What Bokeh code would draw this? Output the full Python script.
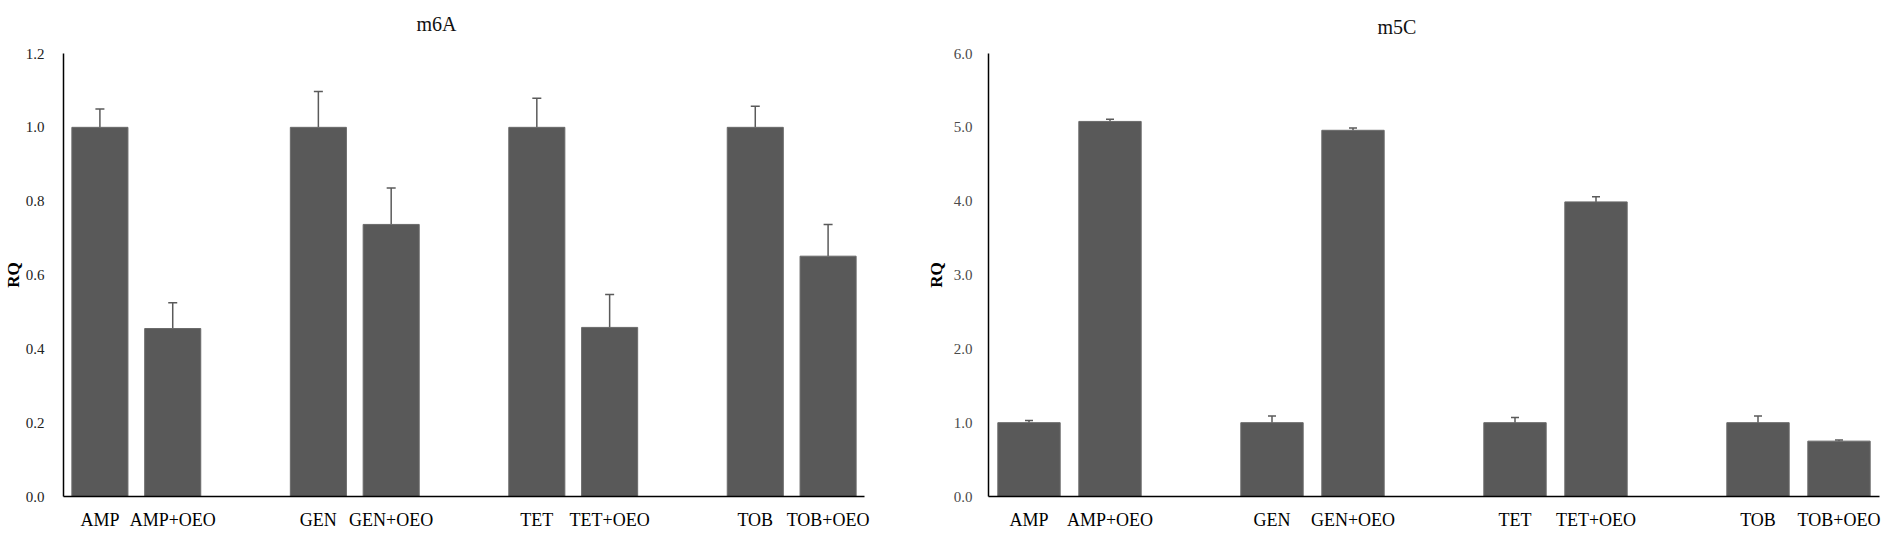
from bokeh.plotting import figure
from bokeh.layouts import row
from bokeh.models import (ColumnDataSource, FixedTicker, NumeralTickFormatter, Range1d,
                          Whisker, TeeHead, Title)
from bokeh.embed import file_html
from bokeh.resources import INLINE

# ---- data ----
categories = ["AMP", "AMP+OEO", "GEN", "GEN+OEO", "TET", "TET+OEO", "TOB", "TOB+OEO"]
m6a_values = [1.0, 0.455, 1.0, 0.737, 1.0, 0.458, 1.0, 0.651]
m6a_errors = [0.050, 0.070, 0.097, 0.099, 0.079, 0.089, 0.057, 0.086]
m5c_values = [1.0, 5.08, 1.0, 4.96, 1.0, 3.99, 1.0, 0.75]
m5c_errors = [0.03, 0.03, 0.09, 0.03, 0.07, 0.07, 0.09, 0.015]
m6a_yticks = [0.0, 0.2, 0.4, 0.6, 0.8, 1.0, 1.2]
m5c_yticks = [0.0, 1.0, 2.0, 3.0, 4.0, 5.0, 6.0]

# bar slots: pairs with an empty slot between groups
positions = [i + i // 2 for i in range(len(categories))]

SERIF = "Liberation Serif"
BAR = "#595959"


def make_panel(title, values, errors, yticks, ymax, width, bl, br, title_offset,
               spacer_size, tick_standoff, label_standoff, tick_color, cap):
    src = ColumnDataSource(dict(
        x=positions,
        top=values,
        upper=[v + e for v, e in zip(values, errors)],
    ))
    p = figure(width=width, height=532, output_backend="svg", toolbar_location=None,
               x_range=Range1d(-0.5, 10.5), y_range=Range1d(0, ymax),
               min_border_left=bl, min_border_right=br, min_border_top=53,
               min_border_bottom=36)
    p.title = None
    p.vbar(x="x", top="top", bottom=0, width=0.77, source=src,
           fill_color=BAR, line_color="#6a6a6a", line_width=1)
    w = Whisker(base="x", upper="upper", lower="top", source=src,
                line_color="#5a5a5a", line_width=1.5,
                upper_head=TeeHead(size=cap, line_color="#5a5a5a", line_width=1.5),
                lower_head=None)
    p.add_layout(w)

    # invisible spacer so the title sits higher above the frame
    p.add_layout(Title(text=" ", text_font=SERIF, text_font_size=spacer_size,
                       standoff=0, text_color="white"), "above")
    p.add_layout(Title(text=title, text_font=SERIF, text_font_size="20px",
                       text_font_style="normal", align="left", offset=title_offset,
                       text_color="#111111"), "above")

    p.grid.visible = False
    p.outline_line_color = None
    p.background_fill_color = "white"
    p.border_fill_color = "white"

    xa = p.xaxis[0]
    xa.ticker = FixedTicker(ticks=positions)
    xa.major_label_overrides = {float(px): c for px, c in zip(positions, categories)}
    xa.major_tick_line_color = None
    xa.minor_tick_line_color = None
    xa.major_tick_out = 0
    xa.major_tick_in = 0
    xa.minor_tick_out = 0
    xa.axis_line_color = "black"
    xa.axis_line_width = 1.5
    xa.major_label_text_font = SERIF
    xa.major_label_text_font_size = "18px"
    xa.major_label_text_color = "black"
    xa.major_label_standoff = 13

    ya = p.yaxis[0]
    ya.ticker = FixedTicker(ticks=yticks)
    ya.formatter = NumeralTickFormatter(format="0.0")
    ya.major_tick_line_color = None
    ya.minor_tick_line_color = None
    ya.major_tick_out = 0
    ya.major_tick_in = 0
    ya.minor_tick_out = 0
    ya.axis_line_color = "black"
    ya.axis_line_width = 1.5
    ya.major_label_text_font = SERIF
    ya.major_label_text_font_size = "15px"
    ya.major_label_text_color = tick_color
    ya.major_label_standoff = tick_standoff
    ya.axis_label = "RQ"
    ya.axis_label_text_font = SERIF
    ya.axis_label_text_font_style = "bold"
    ya.axis_label_text_font_size = "17px"
    ya.axis_label_text_color = "black"
    ya.axis_label_standoff = label_standoff
    return p


left = make_panel("m6A", m6a_values, m6a_errors, m6a_yticks, 1.2,
                  width=875, bl=63, br=11, title_offset=353, spacer_size="11px",
                  tick_standoff=19, label_standoff=0, tick_color="#222222", cap=9)
right = make_panel("m5C", m5c_values, m5c_errors, m5c_yticks, 6.0,
                   width=1013, bl=113, br=9, title_offset=389, spacer_size="8px",
                   tick_standoff=16, label_standoff=5, tick_color="#4a4a4a", cap=8)

layout = row(left, right, spacing=0)
open("out.html", "w").write(file_html(layout, INLINE))
